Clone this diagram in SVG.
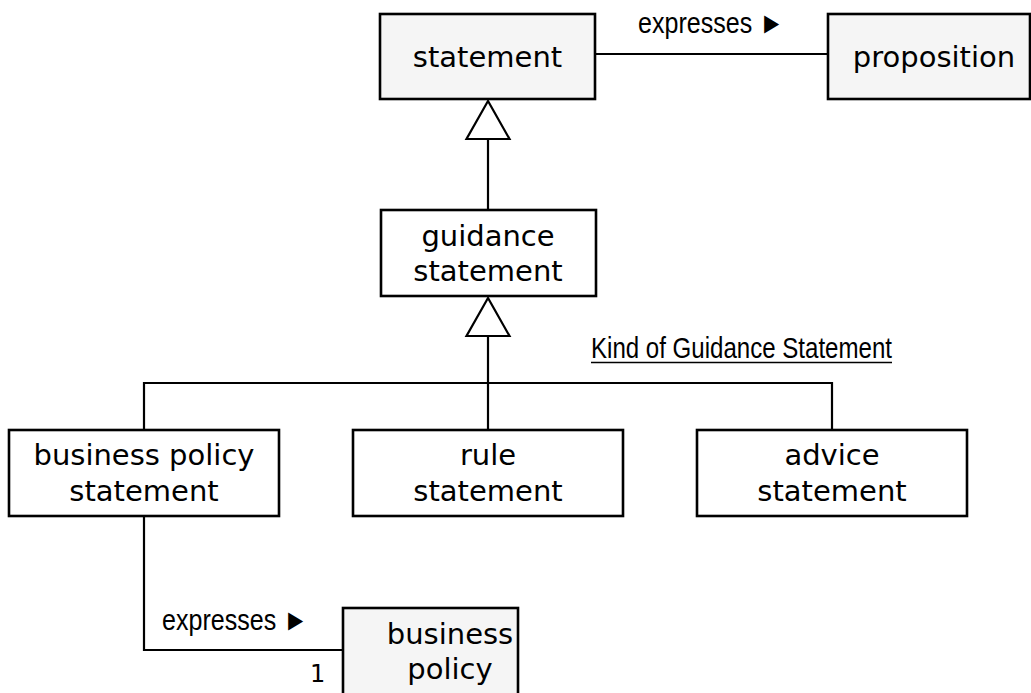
<svg xmlns="http://www.w3.org/2000/svg" width="1031" height="693" viewBox="0 0 1031 693">
<style>
.box{stroke:#000;stroke-width:2.6;fill:#fff}
.shade{fill:#f5f5f5}
.lbl{font-family:"DejaVu Sans",Verdana,sans-serif;font-size:29px;fill:#000;text-anchor:middle}
.role{font-family:"Liberation Sans Narrow","Liberation Sans",Arial,sans-serif;font-size:30px;fill:#000}
.ln{stroke:#000;stroke-width:2.2;fill:none}
.gen{stroke:#000;stroke-width:2.2;fill:#fff}
</style>
<rect width="1031" height="693" fill="#fff"/>
<g id="connectors">
<line class="ln" x1="595" y1="54" x2="828" y2="54"/>
<line class="ln" x1="488" y1="139" x2="488" y2="210"/>
<polygon class="gen" points="488,101 466.5,139 509.5,139"/>
<line class="ln" x1="488" y1="336" x2="488" y2="430"/>
<polygon class="gen" points="488,298 466.5,336 509.5,336"/>
<polyline class="ln" points="144,430 144,383 832,383 832,430"/>
<polyline class="ln" points="144,516 144,650 343,650"/>
<text class="role" x="638" y="33" textLength="146" lengthAdjust="spacingAndGlyphs">expresses ►</text>
<text class="role" x="162" y="630" textLength="146" lengthAdjust="spacingAndGlyphs">expresses ►</text>
<text x="310" y="682" font-family="DejaVu Sans,sans-serif" font-size="24">1</text>
<text class="role" x="591" y="358" textLength="301" lengthAdjust="spacingAndGlyphs">Kind of Guidance Statement</text>
<line x1="591" y1="362.5" x2="892" y2="362.5" stroke="#000" stroke-width="1.5"/>
</g>
<g id="statement">
<rect class="box shade" x="380" y="14" width="215" height="85"/>
<text class="lbl" x="487.5" y="67">statement</text>
</g>
<g id="proposition">
<rect class="box shade" x="828" y="14" width="202" height="85"/>
<text class="lbl" x="934" y="67">proposition</text>
</g>
<g id="guidance-statement">
<rect class="box" x="381" y="210" width="215" height="86"/>
<text class="lbl" x="488" y="246">guidance</text>
<text class="lbl" x="488" y="281">statement</text>
</g>
<g id="business-policy-statement">
<rect class="box" x="9" y="430" width="270" height="86"/>
<text class="lbl" x="144" y="465">business policy</text>
<text class="lbl" x="144" y="501">statement</text>
</g>
<g id="rule-statement">
<rect class="box" x="353" y="430" width="270" height="86"/>
<text class="lbl" x="488" y="465">rule</text>
<text class="lbl" x="488" y="501">statement</text>
</g>
<g id="advice-statement">
<rect class="box" x="697" y="430" width="270" height="86"/>
<text class="lbl" x="832" y="465">advice</text>
<text class="lbl" x="832" y="501">statement</text>
</g>
<g id="business-policy">
<rect class="box shade" x="343" y="608" width="175" height="100"/>
<text class="lbl" x="450" y="644">business</text>
<text class="lbl" x="450" y="679">policy</text>
</g>
</svg>
